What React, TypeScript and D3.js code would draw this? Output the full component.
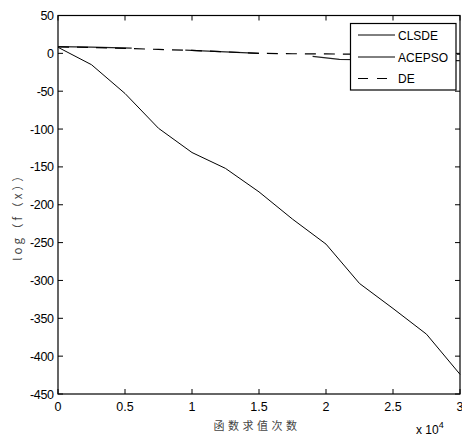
import React, { useEffect, useRef } from "react";
import * as d3 from "d3";

// function evaluations (x 10^4)
const evals = [0, 0.25, 0.5, 0.75, 1, 1.25, 1.5, 1.75, 2, 2.25, 2.5, 2.75, 3];
const clsde = [8, -15, -53, -99, -131, -152, -183, -219, -252, -304, -337, -371, -424];
const de = [8.5, 7.8, 6.5, 5.2, 3.8, 2, 0, -0.5, -0.8, -1, -1, -1, -1];
// ACEPSO: only visible in pieces (null = hidden behind the DE dashes)
const acepsoX = [0, 0.25, 0.55, 0.75, 0.95, 1.25, 1.5, 1.7, 1.9, 2.1, 2.5, 3];
const acepso = [9, 8.3, 7, null, 4.2, 2, 0, null, -4, -8, -9, -9.5];

const xTicks = [0, 0.5, 1, 1.5, 2, 2.5, 3];
const yTicks = d3.range(-450, 51, 50);
const legendNames = ["CLSDE", "ACEPSO", "DE"];

const W = 462;
const H = 437;
const m = { left: 58, right: 460, top: 15.5, bottom: 394 };

export default function App() {
  const ref = useRef<SVGSVGElement>(null);

  useEffect(() => {
    const svg = d3.select(ref.current);
    svg.selectAll("*").remove();

    const x = d3.scaleLinear().domain([0, 3]).range([m.left, m.right]);
    const y = d3.scaleLinear().domain([-450, 50]).range([m.bottom, m.top]);
    const font = "'Liberation Sans', Arial, sans-serif";

    svg.append("rect").attr("width", W).attr("height", H).attr("fill", "#fff");

    // box
    svg
      .append("rect")
      .attr("x", m.left)
      .attr("y", m.top)
      .attr("width", m.right - m.left)
      .attr("height", m.bottom - m.top)
      .attr("fill", "none")
      .attr("stroke", "#000")
      .attr("stroke-width", 1.2);

    // ticks pointing inward on all sides
    const tl = 5;
    const g = svg.append("g").attr("stroke", "#000").attr("stroke-width", 1);
    xTicks.forEach((t) => {
      g.append("line").attr("x1", x(t)).attr("x2", x(t)).attr("y1", m.bottom).attr("y2", m.bottom - tl);
      g.append("line").attr("x1", x(t)).attr("x2", x(t)).attr("y1", m.top).attr("y2", m.top + tl);
    });
    yTicks.forEach((t) => {
      g.append("line").attr("x1", m.left).attr("x2", m.left + tl).attr("y1", y(t)).attr("y2", y(t));
      g.append("line").attr("x1", m.right).attr("x2", m.right - tl).attr("y1", y(t)).attr("y2", y(t));
    });

    // tick labels
    svg
      .append("g")
      .selectAll("text")
      .data(xTicks)
      .join("text")
      .attr("x", (d) => x(d))
      .attr("y", 411)
      .attr("text-anchor", "middle")
      .attr("font-family", font)
      .attr("font-size", 12.5)
      .text((d) => String(d));
    svg
      .append("g")
      .selectAll("text")
      .data(yTicks)
      .join("text")
      .attr("x", 53.5)
      .attr("y", (d) => y(d) + 4.5)
      .attr("text-anchor", "end")
      .attr("font-family", font)
      .attr("font-size", 12.5)
      .attr("letter-spacing", -0.4)
      .text((d) => String(d));

    // exponent
    const ex = svg
      .append("text")
      .attr("x", 416)
      .attr("y", 434)
      .attr("font-family", font)
      .attr("font-size", 12)
      .text("x 10");
    ex.append("tspan").attr("dy", -6).attr("font-size", 9).text("4");

    // axis titles
    svg
      .append("text")
      .attr("x", (m.left + m.right) / 2 - 2)
      .attr("y", 430)
      .attr("text-anchor", "middle")
      .attr("font-family", "'Noto Sans CJK SC', sans-serif")
      .attr("font-size", 11)
      .attr("letter-spacing", 3.5)
      .attr("fill", "#444")
      .text("函数求值次数");
    svg
      .append("text")
      .attr("transform", `translate(22,214) rotate(-90)`)
      .attr("text-anchor", "middle")
      .attr("font-family", "'Noto Sans CJK SC', sans-serif")
      .attr("font-size", 11.5)
      .attr("letter-spacing", 3)
      .attr("fill", "#444")
      .text("log（f（x））");

    const line = d3
      .line<[number, number | null]>()
      .defined((d) => d[1] !== null)
      .x((d) => x(d[0]))
      .y((d) => y(d[1] as number));

    const plot = svg.append("g").attr("fill", "none").attr("stroke", "#000");
    plot
      .append("path")
      .attr("d", line(evals.map((e, i) => [e, clsde[i]])))
      .attr("stroke-width", 1);
    plot
      .append("path")
      .attr("d", line(acepsoX.map((e, i) => [e, acepso[i]])))
      .attr("stroke-width", 1.3)
      .attr("stroke", "#222");
    plot
      .append("path")
      .attr("d", line(evals.map((e, i) => [e, de[i]])))
      .attr("stroke-width", 1.2)
      .attr("stroke-dasharray", "11 8");

    // legend
    const lg = svg.append("g");
    lg.append("rect")
      .attr("x", 350.5)
      .attr("y", 23.5)
      .attr("width", 105.5)
      .attr("height", 66.5)
      .attr("fill", "#fff")
      .attr("stroke", "#000")
      .attr("stroke-width", 1.2);
    const rowY = [35, 57, 78.5];
    legendNames.forEach((n, i) => {
      lg.append("line")
        .attr("x1", 358)
        .attr("x2", 395)
        .attr("y1", rowY[i])
        .attr("y2", rowY[i])
        .attr("stroke", "#000")
        .attr("stroke-width", 1)
        .attr("stroke-dasharray", i === 2 ? "10 9" : null);
      lg.append("text")
        .attr("x", 398)
        .attr("y", rowY[i] + 4.5)
        .attr("font-family", font)
        .attr("font-size", 12)
        .text(n);
    });
  }, []);

  return (
    <svg
      ref={ref}
      width={W}
      height={H}
      style={{ position: "absolute", left: 0, top: 0, display: "block" }}
    />
  );
}
